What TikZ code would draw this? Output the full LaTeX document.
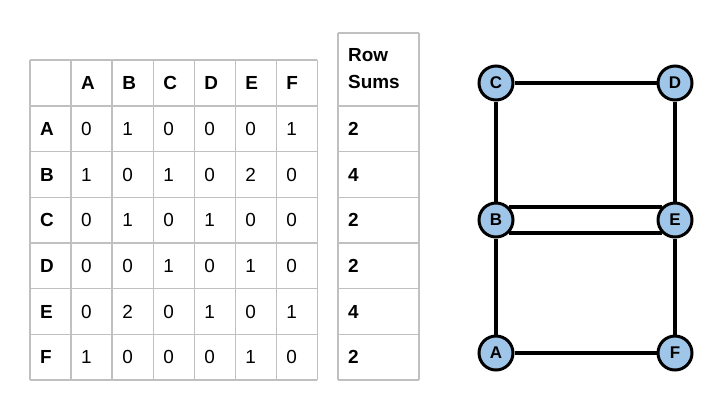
\documentclass[tikz,border=0pt]{standalone}
\usepackage{fontspec}
\setmainfont{Liberation Sans}
\usetikzlibrary{positioning}
\definecolor{gridgray}{RGB}{192,192,192}
\definecolor{nodeblue}{RGB}{159,197,232}

\begin{document}
\begin{tikzpicture}[x=1bp,y=-1bp,
  rule/.style={gridgray, line width=1.2bp},
  entry/.style={anchor=west, inner sep=0pt, font=\fontsize{19}{22}\selectfont},
  label/.style={anchor=west, inner sep=0pt, font=\bfseries\fontsize{19}{22}\selectfont},
  vertex/.style={circle, draw=black, line width=3bp, fill=nodeblue, minimum size=34bp,
                 inner sep=0pt, font=\bfseries\fontsize{17}{18}\selectfont},
  edge/.style={line width=3.2bp}]

\useasboundingbox (0,0) rectangle (728,417);

%---------------------------------------
% Adjacency table
%---------------------------------------
\def\Xo{30}    % left edge
\def\Cw{41.04} % column width
\def\Yo{60}    % top edge
\def\Yh{106}   % bottom of header row
\def\Rh{45.67} % row height

% Grid
\foreach \i in {0,...,7}
  \draw[rule] ({\Xo+\i*\Cw},\Yo) -- ({\Xo+\i*\Cw},{\Yh+6*\Rh});
\draw[rule] (\Xo,\Yo) -- ({\Xo+7*\Cw},\Yo);
\foreach \j in {0,...,6}
  \draw[rule] (\Xo,{\Yh+\j*\Rh}) -- ({\Xo+7*\Cw},{\Yh+\j*\Rh});

% Column and row headings
\foreach \name [count=\i] in {A,B,C,D,E,F} {
  \node[label] (col\name) at ({\Xo+\i*\Cw+10},{(\Yo+\Yh)/2}) {\name};
  \node[label] (row\name) at ({\Xo+10},{\Yh+(\i-0.5)*\Rh}) {\name};
}

% Entries
\foreach \row [count=\j] in {{0,1,0,0,0,1},{1,0,1,0,2,0},{0,1,0,1,0,0},
                             {0,0,1,0,1,0},{0,2,0,1,0,1},{1,0,0,0,1,0}} {
  \foreach \val [count=\i] in \row
    \node[entry] (m\j\i) at ({\Xo+\i*\Cw+10},{\Yh+(\j-0.5)*\Rh}) {\val};
}

%---------------------------------------
% Row sums
%---------------------------------------
\def\Sx{338}
\def\Sw{81}
\foreach \j in {0,...,6}
  \draw[rule] (\Sx,{\Yh+\j*\Rh}) -- ({\Sx+\Sw},{\Yh+\j*\Rh});
\draw[rule] (\Sx,33) -- ({\Sx+\Sw},33);
\draw[rule] (\Sx,33) -- (\Sx,{\Yh+6*\Rh});
\draw[rule] ({\Sx+\Sw},33) -- ({\Sx+\Sw},{\Yh+6*\Rh});

\node[label, anchor=north west, align=left, font=\bfseries\fontsize{19}{27}\selectfont]
  (sumhead) at (\Sx+10,48) {Row\\Sums};
\foreach \s [count=\j] in {2,4,2,2,4,2}
  \node[label] (sum\j) at (\Sx+10,{\Yh+(\j-0.5)*\Rh}) {\s};

%---------------------------------------
% Multigraph
%---------------------------------------
\node[vertex] (C) at (496,83) {C};
\node[vertex] (D) at (675,83) {D};
\node[vertex] (B) at (496,220) {B};
\node[vertex] (E) at (675,220) {E};
\node[vertex] (A) at (496,353) {A};
\node[vertex] (F) at (675,353) {F};

\draw[edge] (C) -- (D);
\draw[edge] (C) -- (B);
\draw[edge] (D) -- (E);
\draw[edge] (B) -- (A);
\draw[edge] (E) -- (F);
\draw[edge] (A) -- (F);
% two B--E edges
\draw[edge] (B.45) -- (E.135);
\draw[edge] (B.-45) -- (E.-135);

\end{tikzpicture}
\end{document}
